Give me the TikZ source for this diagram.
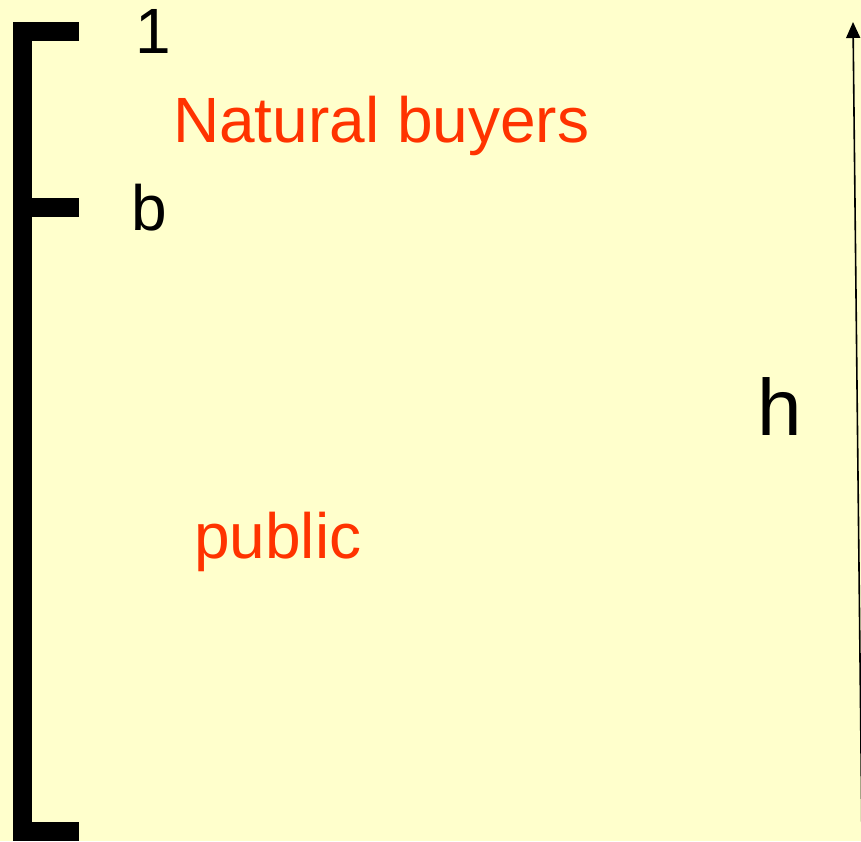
\documentclass[tikz,border=0pt]{standalone}
\usepackage{fontspec}
\setmainfont{Liberation Sans}
\usetikzlibrary{arrows.meta}
\definecolor{paper}{HTML}{FFFFCC}
\definecolor{brick}{HTML}{FF3300}

\begin{document}
\begin{tikzpicture}[x=1pt,y=-1pt,
    bracket/.style={line width=19,black,line join=miter},
    label/.style={inner sep=0,anchor=base west,font=\fontsize{64}{70}\selectfont},
    group/.style={label,text=brick},
    height/.style={line width=1.6,-{Triangle[width=14,length=16]}}
    ]
    \def\W{861}  % picture width
    \def\H{841}  % picture height
    \def\X{22.5} % bracket x position
    \def\L{79}   % bracket tick end

    \fill[paper] (0,0) rectangle (\W,\H);
    \useasboundingbox (0,0) rectangle (\W,\H);

    % bracket with its ticks
    \draw[bracket] (\L,31.5) -- (\X,31.5) -- (\X,831) -- (\L,831);
    \draw[bracket] (\X,207.5) -- (\L,207.5);

    \node[label] (one) at (135,53) {1};
    \node[group] (buyers) at (173,142) {Natural buyers};
    \node[label] (b) at (131,230) {b};
    \node[group] (public) at (194,558) {public};
    \node[label,font=\fontsize{80}{90}\selectfont] (h) at (757,435) {h};

    % height arrow
    \coordinate (foot) at (862,841);
    \coordinate (top) at (853,22);
    \draw[height] (foot) -- (top);
\end{tikzpicture}
\end{document}
